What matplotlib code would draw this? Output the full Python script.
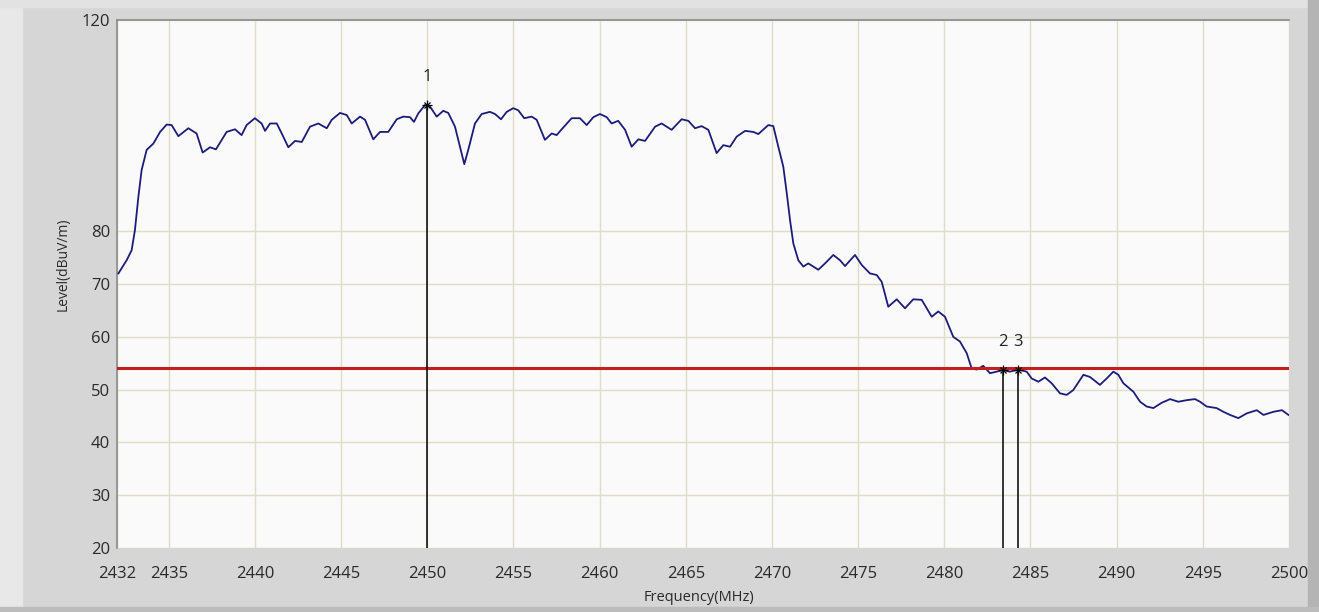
import matplotlib
matplotlib.use("Agg")
import matplotlib.pyplot as plt
from matplotlib.patches import Rectangle

# spectrum trace (MHz, dBuV/m)
freq = [2432.08, 2432.56, 2432.85, 2433.04, 2433.24, 2433.43, 2433.72, 2434.11, 2434.50, 2434.88,
        2435.17, 2435.56, 2436.14, 2436.62, 2436.97, 2437.40, 2437.74, 2438.36, 2438.85, 2439.23,
        2439.52, 2440.00, 2440.39, 2440.59, 2440.88, 2441.27, 2441.56, 2441.94, 2442.33, 2442.72,
        2443.20, 2443.68, 2444.17, 2444.46, 2444.94, 2445.33, 2445.62, 2446.10, 2446.39, 2446.87,
        2447.26, 2447.74, 2448.23, 2448.61, 2449.00, 2449.23, 2449.48, 2449.87, 2450.16, 2450.55,
        2450.93, 2451.22, 2451.61, 2451.90, 2452.15, 2452.38, 2452.77, 2453.16, 2453.64, 2453.93,
        2454.28, 2454.61, 2454.99, 2455.28, 2455.63, 2456.06, 2456.35, 2456.83, 2457.22, 2457.51,
        2457.80, 2458.38, 2458.86, 2459.25, 2459.64, 2460.02, 2460.41, 2460.70, 2461.08, 2461.48,
        2461.86, 2462.25, 2462.64, 2463.22, 2463.60, 2464.18, 2464.76, 2465.15, 2465.54, 2465.92,
        2466.31, 2466.79, 2467.18, 2467.57, 2467.95, 2468.44, 2468.92, 2469.21, 2469.79, 2470.08,
        2470.37, 2470.66, 2470.86, 2471.05, 2471.24, 2471.53, 2471.82, 2472.11, 2472.40, 2472.69,
        2473.08, 2473.56, 2473.95, 2474.24, 2474.82, 2475.21, 2475.69, 2476.08, 2476.37, 2476.75,
        2477.24, 2477.72, 2478.20, 2478.69, 2479.27, 2479.65, 2480.04, 2480.52, 2480.91, 2481.30,
        2481.59, 2481.88, 2482.26, 2482.65, 2483.04, 2483.42, 2483.81, 2484.30, 2484.78, 2485.07,
        2485.46, 2485.84, 2486.23, 2486.71, 2487.10, 2487.48, 2488.07, 2488.45, 2489.03, 2489.42,
        2489.81, 2490.10, 2490.39, 2490.97, 2491.36, 2491.74, 2492.13, 2492.61, 2493.10, 2493.58,
        2494.06, 2494.55, 2494.84, 2495.22, 2495.80, 2496.19, 2496.58, 2497.06, 2497.55, 2498.13,
        2498.52, 2499.10, 2499.59, 2499.97]
level = [72.0, 74.5, 76.4, 80.2, 86.5, 91.6, 95.4, 96.6, 98.8, 100.2,
         100.1, 98.0, 99.5, 98.5, 94.9, 95.9, 95.5, 98.8, 99.3, 98.2,
         100.1, 101.4, 100.4, 99.0, 100.4, 100.4, 98.5, 95.9, 97.1, 96.9,
         99.8, 100.4, 99.5, 101.1, 102.4, 102.0, 100.4, 101.7, 101.1, 97.4,
         98.8, 98.8, 101.2, 101.7, 101.6, 100.7, 102.3, 103.9, 103.6, 101.7,
         102.8, 102.4, 99.8, 96.0, 92.7, 95.4, 100.4, 102.2, 102.6, 102.2,
         101.2, 102.6, 103.3, 102.9, 101.4, 101.7, 101.1, 97.3, 98.5, 98.2,
         99.3, 101.4, 101.4, 100.1, 101.6, 102.2, 101.6, 100.4, 100.9, 99.2,
         96.0, 97.4, 97.1, 99.8, 100.4, 99.2, 101.2, 100.9, 99.5, 99.9,
         99.2, 94.8, 96.3, 96.0, 97.9, 99.0, 98.8, 98.4, 100.1, 99.9,
         96.0, 92.2, 87.2, 82.1, 77.7, 74.5, 73.3, 73.9, 73.3, 72.7,
         73.9, 75.5, 74.5, 73.4, 75.5, 73.6, 72.0, 71.7, 70.4, 65.7,
         67.1, 65.4, 67.1, 67.0, 63.8, 64.8, 63.8, 60.0, 59.1, 56.9,
         54.0, 53.8, 54.5, 53.1, 53.4, 53.7, 53.4, 53.8, 53.4, 52.1,
         51.5, 52.3, 51.2, 49.3, 49.0, 49.9, 52.8, 52.4, 50.9, 52.1,
         53.4, 52.8, 51.2, 49.6, 47.7, 46.8, 46.5, 47.5, 48.2, 47.7,
         48.0, 48.2, 47.7, 46.8, 46.5, 45.8, 45.2, 44.6, 45.5, 46.1,
         45.2, 45.8, 46.1, 45.2]

limit = 54.0
marker_freq = [2450.0, 2483.42, 2484.30]
marker_level = [103.9, 53.7, 53.8]
marker_names = ["1", "2", "3"]

xticks = [2432, 2435, 2440, 2445, 2450, 2455, 2460, 2465, 2470, 2475, 2480, 2485, 2490, 2495, 2500]
yticks = [20, 30, 40, 50, 60, 70, 80, 120]

W, H = 1319, 612
fig = plt.figure(figsize=(W / 100, H / 100), dpi=100, facecolor="#d6d6d6")

# window frame shading
fig.patches.append(Rectangle((0, 0), 22 / W, 1, transform=fig.transFigure, color="#e8e8e8", zorder=0))
fig.patches.append(Rectangle((0, 1 - 7 / H), 1, 7 / H, transform=fig.transFigure, color="#e2e2e2", zorder=0))
fig.patches.append(Rectangle((1308 / W, 0), 11 / W, 1, transform=fig.transFigure, color="#b4b4b4", zorder=0))
fig.patches.append(Rectangle((0, 0), 1, 5 / H, transform=fig.transFigure, color="#bcbcbc", zorder=0))

ax = fig.add_axes([117 / W, 1 - 548 / H, 1172 / W, 528 / H])
ax.set_zorder(2)
ax.set_facecolor("#fafafa")

ax.plot(freq, level, color="#1c1c7a", lw=1.3, zorder=3)
ax.axhline(limit, color="#c41e1e", lw=2.2, zorder=4)

for f, l, name in zip(marker_freq, marker_level, marker_names):
    ax.plot([f, f], [20, l], color="black", lw=1.1, zorder=5)
    ax.plot(f, l, marker="+", color="black", ms=7, mew=0.9, zorder=6)
    ax.plot(f, l, marker="x", color="black", ms=5, mew=0.9, zorder=6)
    ax.annotate(name, (f, l), xytext=(0, 20), textcoords="offset points",
                ha="center", va="center", fontsize=12, family="Open Sans", color="#222222")

ax.set_xlim(2432, 2500)
ax.set_ylim(20, 120)
ax.set_xticks(xticks)
ax.set_yticks(yticks)
ax.grid(True, color="#e0ddc6", lw=1.0, zorder=1)
ax.set_axisbelow(True)
ax.tick_params(length=0, labelsize=12, colors="#2a2a2a")
ax.tick_params(axis="x", pad=13)
ax.tick_params(axis="y", pad=5)
for lab in ax.get_xticklabels() + ax.get_yticklabels():
    lab.set_family("Open Sans")

for side in ["bottom", "right"]:
    ax.spines[side].set_visible(False)
for side in ["left", "top"]:
    ax.spines[side].set_color("#8a8a8a")
    ax.spines[side].set_linewidth(1.2)

ax.set_xlabel("Frequency(MHz)", fontsize=10.5, family="Open Sans", color="#2a2a2a")
ax.set_ylabel("Level(dBuV/m)", fontsize=10, family="Open Sans", color="#2a2a2a")
ax.xaxis.label.set_va("center")
ax.yaxis.label.set_va("center")
ax.xaxis.set_label_coords(0.497, -0.093)
ax.yaxis.set_label_coords(-0.046, 0.538)

fig.savefig("out.png", dpi=100, facecolor=fig.get_facecolor())
